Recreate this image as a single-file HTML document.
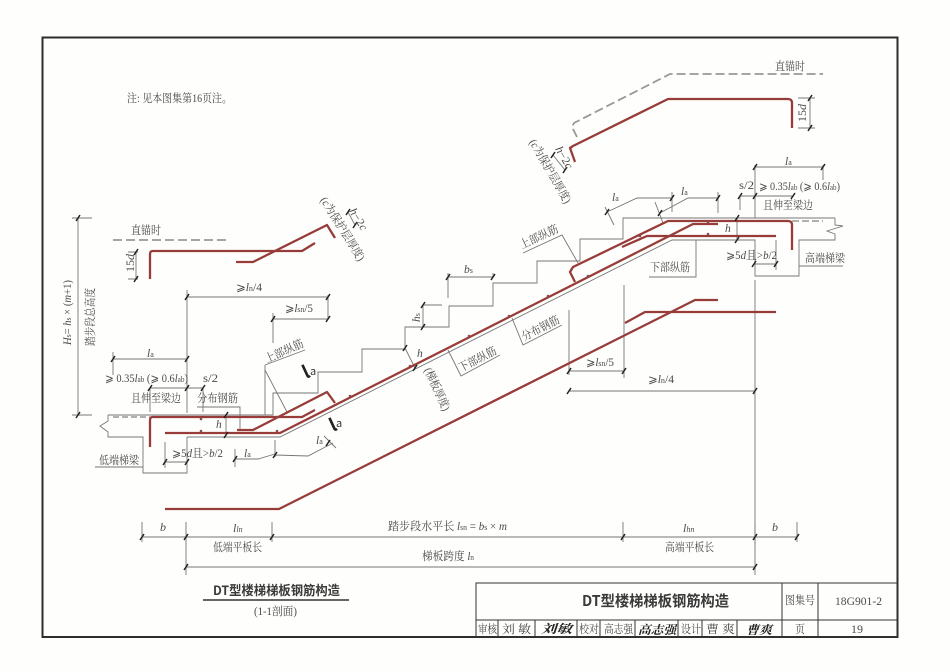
<!DOCTYPE html>
<html>
<head>
<meta charset="utf-8">
<style>
html,body{margin:0;padding:0;background:#fefefc;}
svg{display:block;filter:blur(0.35px);}
text{font-family:"Liberation Serif","Noto Serif CJK SC",serif;fill:#4a4a4a;font-size:11.5px;}
.i{font-style:italic;}
.s{font-family:"Noto Sans CJK SC","Liberation Sans",sans-serif;}
.g{font-family:"DejaVu Sans",sans-serif;}
.u{font-size:8px;}
.n{font-style:normal;font-size:8px;}
</style>
</head>
<body>
<svg width="950" height="672" viewBox="0 0 950 672" xmlns="http://www.w3.org/2000/svg">
<rect x="0" y="0" width="950" height="672" fill="#fefefc"/>
<!-- frame -->
<rect x="42.5" y="37.5" width="855" height="599.5" fill="none" stroke="#2c2c2c" stroke-width="2"/>

<!-- thin structure lines -->
<g fill="none" stroke="#777" stroke-width="0.9">
<path d="M108,415H273V393H318V372H362V349H405V327H449V306H493V283H537V261H580V239H623V218H835"/>
<path d="M187,437H280L672,240H696L755,240V276H799V240H835V234L827,231L843,226L835,225V218"/>
<path d="M108,415V421L100,426L108,432V437H143V473H187V437"/>
<path d="M265,365V415M265,370L287,412M265,365L305,350"/>
<path d="M523,253L562,235L578,263"/>
<path d="M512,318L523,345L562,325"/>
<path d="M448,350L461,376L500,355"/>
<path d="M649,277H696V240"/>
<path d="M799,266H843"/>
<path d="M95,467H143"/>
<path d="M197,407H240V430"/>
<!-- dims -->
<path d="M78,218V415M72,218H92M72,415H92"/>
<path d="M136,252V279M128,252H138M128,279H138"/>
<path d="M187,297H328M187,290V413M328,295V318M273,319H328M273,313V343"/>
<path d="M113,359H187M113,352V375"/>
<path d="M150,388H203M150,388V412M203,388V412"/>
<path d="M226,415V435"/>
<path d="M165,442V468M165,462H187"/>
<path d="M235,449V467M235,459H258L275,454M275,440V457M275,455L308,456L333,443M324,436L336,448"/>
<path d="M810,98V128M798,98H815M798,128H815"/>
<path d="M755,167H823M823,165V180M755,165V218"/>
<path d="M740,196H793M740,196V210"/>
<path d="M607,212L637,198H672M672,192V212M605,207L614,225"/>
<path d="M660,213L688,198H718M718,192V213M655,202L663,223"/>
<path d="M737,218V240"/>
<path d="M754,264H776M776,240V270"/>
<path d="M448,277H493M448,273V298M493,273V277"/>
<path d="M423,305V327M423,305H442"/>
<path d="M405,348L415,368"/>
<path d="M569,371H624M569,310V375M624,285V378"/>
<path d="M569,391H755M755,280V545"/>
<path d="M553,155L565,170M348,212L355,225"/>
<path d="M142,537H797M142,522V542M186,522V575M272,522V542M623,522V542M755,522V575M797,522V542"/>
<path d="M186,567H755"/>
</g>

<!-- dashed -->
<g fill="none" stroke="#999992" stroke-width="1.8" stroke-dasharray="9 4">
<path d="M113,240H230"/>
<path d="M577,137L572,127L574,123L670,74H823"/>
<path d="M113,417H150" stroke-width="1.5" stroke-dasharray="6 3"/>
<path d="M792,221H823" stroke-width="1.5" stroke-dasharray="7 3"/>
</g>

<!-- rebars -->
<g fill="none" stroke="#983c3a" stroke-width="2.3" stroke-linejoin="round">
<path d="M150,279V254Q150,251 153,251H302L315,243"/>
<path d="M236,262H253L327,225L335,238"/>
<path d="M150,447V420Q150,417 153,417H302L315,410"/>
<path d="M237,430H253L327,392L335,403"/>
<path d="M165,433H280L693,224H718"/>
<path d="M575,282L570,272L573,267L668,221H788Q792,221 792,225V250"/>
<path d="M622,247L647,236H776"/>
<path d="M165,509H279L695,300H718"/>
<path d="M625,323L645,312H776"/>
<path d="M575,162L570,148L573,146L668,99H788Q792,99 792,103V128"/>
</g>
<!-- dots -->
<g fill="#8a4a48">
<circle cx="201" cy="419" r="1.3"/><circle cx="201" cy="431" r="1.3"/><circle cx="277" cy="417" r="1.3"/><circle cx="277" cy="431" r="1.3"/>
<circle cx="350" cy="396" r="1.3"/><circle cx="410" cy="366" r="1.3"/><circle cx="469" cy="336" r="1.3"/><circle cx="509" cy="316" r="1.3"/><circle cx="548" cy="296" r="1.3"/><circle cx="588" cy="276" r="1.3"/><circle cx="640" cy="236" r="1.3"/><circle cx="708" cy="222" r="1.3"/><circle cx="708" cy="234" r="1.3"/>
</g>

<!-- ticks -->
<path fill="none" stroke="#222" stroke-width="1.5" d="
M76,221l4,-6 M76,418l4,-6 M134,255l4,-6 M134,282l4,-6
M185,300l4,-6 M326,300l4,-6 M271,322l4,-6 M326,322l4,-6
M111,362l4,-6 M185,362l4,-6 M148,391l4,-6 M185,391l4,-6 M201,391l4,-6
M224,418l4,-6 M224,438l4,-6 M163,465l4,-6 M185,465l4,-6
M233,462l4,-6 M273,458l4,-6 M326,446l4,-6
M808,101l4,-6 M808,131l4,-6 M753,170l4,-6 M821,170l4,-6
M738,199l4,-6 M753,199l4,-6 M791,199l4,-6
M605,215l4,-6 M670,201l4,-6 M658,216l4,-6 M716,201l4,-6
M735,221l4,-6 M735,243l4,-6 M752,267l4,-6 M774,267l4,-6
M446,280l4,-6 M491,280l4,-6 M421,308l4,-6 M421,330l4,-6
M403,351l4,-6 M413,371l4,-6
M567,374l4,-6 M622,374l4,-6 M567,394l4,-6 M753,394l4,-6
M551,158l4,-6 M563,173l4,-6 M346,215l4,-6 M353,228l4,-6
M140,540l4,-6 M184,540l4,-6 M270,540l4,-6 M621,540l4,-6 M753,540l4,-6 M795,540l4,-6
M184,570l4,-6 M753,570l4,-6"/>

<!-- labels top / left -->
<text x="127" y="102" textLength="105" lengthAdjust="spacingAndGlyphs">注: 见本图集第16页注。</text>
<text x="131" y="234" textLength="30" lengthAdjust="spacingAndGlyphs">直锚时</text>
<text x="775" y="70" textLength="30" lengthAdjust="spacingAndGlyphs">直锚时</text>
<text transform="translate(134,272) rotate(-90)" textLength="18" lengthAdjust="spacingAndGlyphs">15<tspan class="i">d</tspan></text>
<text transform="translate(806,122) rotate(-90)" textLength="18" lengthAdjust="spacingAndGlyphs">15<tspan class="i">d</tspan></text>
<text transform="translate(71,345) rotate(-90)" textLength="65" lengthAdjust="spacingAndGlyphs"><tspan class="i">H</tspan><tspan class="u">s</tspan>= <tspan class="i">h</tspan><tspan class="u">s</tspan> × (<tspan class="i">m</tspan>+1)</text>
<text transform="translate(94,346) rotate(-90)" textLength="58" lengthAdjust="spacingAndGlyphs">踏步段总高度</text>

<text x="236" y="291" textLength="26" lengthAdjust="spacingAndGlyphs"><tspan class="g">⩾</tspan><tspan class="i">l</tspan><tspan class="u">n</tspan>/4</text>
<text x="285" y="312" textLength="28" lengthAdjust="spacingAndGlyphs"><tspan class="g">⩾</tspan><tspan class="i">l</tspan><tspan class="u">sn</tspan>/5</text>
<text x="147" y="357" class="i">l<tspan class="n">a</tspan></text>
<text x="105" y="382" textLength="83" lengthAdjust="spacingAndGlyphs"><tspan class="g">⩾</tspan> 0.35<tspan class="i">l</tspan><tspan class="u">ab</tspan> (<tspan class="g">⩾</tspan> 0.6<tspan class="i">l</tspan><tspan class="u">ab</tspan>)</text>
<text x="203" y="382" textLength="15" lengthAdjust="spacingAndGlyphs">s/2</text>
<text x="131" y="402" textLength="50" lengthAdjust="spacingAndGlyphs">且伸至梁边</text>
<text x="197" y="402" textLength="41" lengthAdjust="spacingAndGlyphs">分布钢筋</text>
<text x="99" y="464" textLength="40" lengthAdjust="spacingAndGlyphs">低端梯梁</text>
<text x="172" y="457" textLength="51" lengthAdjust="spacingAndGlyphs"><tspan class="g">⩾</tspan>5<tspan class="i">d</tspan>且&gt;<tspan class="i">b</tspan>/2</text>
<text x="216" y="428" class="i">h</text>
<text x="244" y="457" class="i">l<tspan class="n">a</tspan></text>
<text x="316" y="444" class="i">l<tspan class="n">a</tspan></text>
<text transform="translate(267,363) rotate(-24)" textLength="41" lengthAdjust="spacingAndGlyphs">上部纵筋</text>

<!-- bold la marks -->
<text transform="translate(306,379) rotate(-25)" class="s" style="font-size:18px;font-weight:bold;fill:#222;">l</text>
<text transform="translate(310,375)" class="s" style="font-size:11px;fill:#333;">a</text>
<text transform="translate(333,432) rotate(-25)" class="s" style="font-size:18px;font-weight:bold;fill:#222;">l</text>
<text transform="translate(336,427)" class="s" style="font-size:11px;fill:#333;">a</text>

<!-- rotated cover labels -->
<text transform="translate(320,200) rotate(58)" textLength="73" lengthAdjust="spacingAndGlyphs">(<tspan class="i">c</tspan>为保护层厚度)</text>
<text transform="translate(349,211) rotate(58)" textLength="24" lengthAdjust="spacingAndGlyphs"><tspan class="i">h</tspan>−2<tspan class="i">c</tspan></text>
<text transform="translate(529,142) rotate(60)" textLength="72" lengthAdjust="spacingAndGlyphs">(<tspan class="i">c</tspan>为保护层厚度)</text>
<text transform="translate(555,149) rotate(60)" textLength="24" lengthAdjust="spacingAndGlyphs"><tspan class="i">h</tspan>−2<tspan class="i">c</tspan></text>

<!-- mid labels -->
<text x="464" y="273" class="i">b<tspan class="n">s</tspan></text>
<text transform="translate(420,322) rotate(-90)" class="i">h<tspan class="n">s</tspan></text>
<text x="417" y="357" class="i">h</text>
<text transform="translate(424,370) rotate(65)" textLength="46" lengthAdjust="spacingAndGlyphs">(梯板厚度)</text>
<text transform="translate(461,372) rotate(-27)" textLength="41" lengthAdjust="spacingAndGlyphs">下部纵筋</text>
<text transform="translate(524,341) rotate(-27)" textLength="41" lengthAdjust="spacingAndGlyphs">分布钢筋</text>
<text transform="translate(522,249) rotate(-25)" textLength="41" lengthAdjust="spacingAndGlyphs">上部纵筋</text>
<text x="650" y="271" textLength="40" lengthAdjust="spacingAndGlyphs">下部纵筋</text>
<text x="586" y="366" textLength="28" lengthAdjust="spacingAndGlyphs"><tspan class="g">⩾</tspan><tspan class="i">l</tspan><tspan class="u">sn</tspan>/5</text>
<text x="648" y="383" textLength="26" lengthAdjust="spacingAndGlyphs"><tspan class="g">⩾</tspan><tspan class="i">l</tspan><tspan class="u">n</tspan>/4</text>

<!-- right labels -->
<text x="785" y="165" class="i">l<tspan class="n">a</tspan></text>
<text x="739" y="189" textLength="15" lengthAdjust="spacingAndGlyphs">s/2</text>
<text x="759" y="190" textLength="81" lengthAdjust="spacingAndGlyphs"><tspan class="g">⩾</tspan> 0.35<tspan class="i">l</tspan><tspan class="u">ab</tspan> (<tspan class="g">⩾</tspan> 0.6<tspan class="i">l</tspan><tspan class="u">ab</tspan>)</text>
<text x="763" y="209" textLength="50" lengthAdjust="spacingAndGlyphs">且伸至梁边</text>
<text x="612" y="201" class="i">l<tspan class="n">a</tspan></text>
<text x="681" y="195" class="i">l<tspan class="n">a</tspan></text>
<text x="725" y="232" class="i">h</text>
<text x="726" y="259" textLength="51" lengthAdjust="spacingAndGlyphs"><tspan class="g">⩾</tspan>5<tspan class="i">d</tspan>且&gt;<tspan class="i">b</tspan>/2</text>
<text x="805" y="262" textLength="40" lengthAdjust="spacingAndGlyphs">高端梯梁</text>

<!-- bottom dims labels -->
<text x="160" y="531" class="i" style="font-size:12px">b</text>
<text x="233" y="532" class="i" style="font-size:12px">l<tspan class="u">ln</tspan></text>
<text x="388" y="530" textLength="119" lengthAdjust="spacingAndGlyphs">踏步段水平长 <tspan class="i">l</tspan><tspan class="u">sn</tspan> = <tspan class="i">b</tspan><tspan class="u">s</tspan> × <tspan class="i">m</tspan></text>
<text x="683" y="532" class="i" style="font-size:12px">l<tspan class="u">hn</tspan></text>
<text x="772" y="531" class="i" style="font-size:12px">b</text>
<text x="213" y="551" textLength="49" lengthAdjust="spacingAndGlyphs">低端平板长</text>
<text x="665" y="551" textLength="49" lengthAdjust="spacingAndGlyphs">高端平板长</text>
<text x="422" y="560" textLength="52" lengthAdjust="spacingAndGlyphs">梯板跨度 <tspan class="i">l</tspan><tspan class="u">n</tspan></text>

<!-- drawing title -->
<text x="213" y="595" textLength="127" lengthAdjust="spacingAndGlyphs" class="s" style="font-size:13px;font-weight:bold;fill:#3a3a3a;">DT型楼梯梯板钢筋构造</text>
<line x1="203" y1="600" x2="349" y2="600" stroke="#333" stroke-width="1.6"/>
<text x="254" y="615" textLength="43" lengthAdjust="spacingAndGlyphs">(1-1剖面)</text>

<!-- title block -->
<g fill="none" stroke="#333" stroke-width="1">
<rect x="476" y="583" width="421" height="54"/>
<path d="M476,620H897M782,583V637M818,583V637M498,620V637M535,620V637M577,620V637M600,620V637M635,620V637M678,620V637M702,620V637M737,620V637"/>
</g>
<text x="582" y="606" textLength="147" lengthAdjust="spacingAndGlyphs" class="s" style="font-size:15px;font-weight:bold;fill:#3a3a3a;">DT型楼梯梯板钢筋构造</text>
<text x="785" y="604" textLength="30" lengthAdjust="spacingAndGlyphs">图集号</text>
<text x="835" y="605" textLength="47" lengthAdjust="spacingAndGlyphs" style="font-size:12px">18G901-2</text>
<text x="795" y="633" textLength="10" lengthAdjust="spacingAndGlyphs">页</text>
<text x="851" y="633" textLength="12" lengthAdjust="spacingAndGlyphs" style="font-size:12px">19</text>
<text x="478" y="633" textLength="19" lengthAdjust="spacingAndGlyphs">审核</text>
<text x="502" y="633" textLength="29" lengthAdjust="spacingAndGlyphs">刘 敏</text>
<text x="541" y="633" textLength="31" lengthAdjust="spacingAndGlyphs" class="i" style="font-size:12px;font-weight:bold;fill:#222;">刘敏</text>
<text x="579" y="633" textLength="20" lengthAdjust="spacingAndGlyphs">校对</text>
<text x="604" y="633" textLength="29" lengthAdjust="spacingAndGlyphs">高志强</text>
<text x="638" y="634" textLength="38" lengthAdjust="spacingAndGlyphs" class="i" style="font-size:12px;font-weight:bold;fill:#222;">高志强</text>
<text x="681" y="633" textLength="20" lengthAdjust="spacingAndGlyphs">设计</text>
<text x="706" y="633" textLength="29" lengthAdjust="spacingAndGlyphs">曹 爽</text>
<text x="746" y="634" textLength="26" lengthAdjust="spacingAndGlyphs" class="i" style="font-size:12px;font-weight:bold;fill:#222;">曹爽</text>
</svg>
</body>
</html>
